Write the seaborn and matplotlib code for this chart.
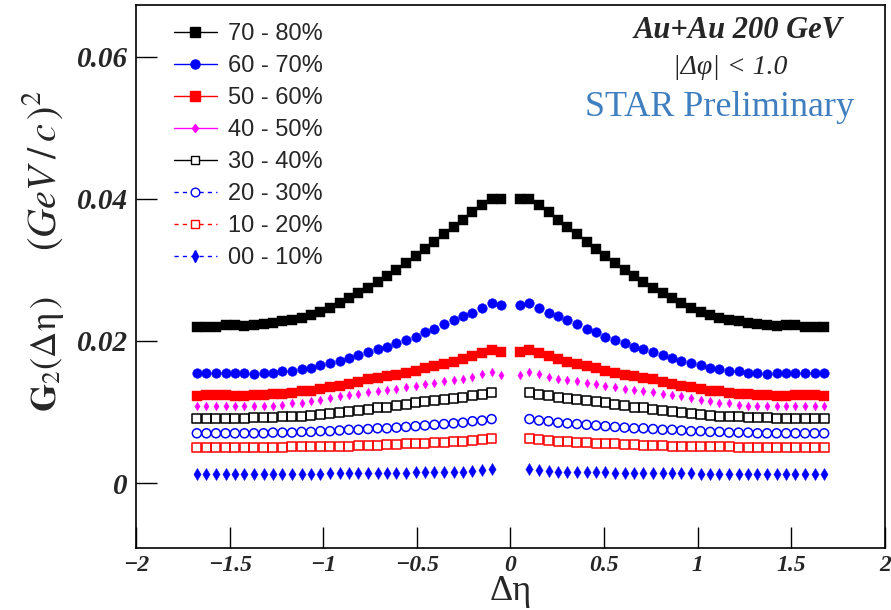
import matplotlib
matplotlib.use("Agg")
import matplotlib.pyplot as plt
import seaborn as sns
import pandas as pd
from matplotlib.lines import Line2D

# |Δη| bin centres (positive side; the chart is symmetric about 0)
eta_pos = [0.051, 0.101, 0.152, 0.203, 0.254, 0.304, 0.355, 0.406, 0.457, 0.507,
           0.558, 0.609, 0.660, 0.710, 0.761, 0.812, 0.863, 0.913, 0.964, 1.015,
           1.066, 1.116, 1.167, 1.218, 1.269, 1.319, 1.370, 1.421, 1.472, 1.522,
           1.573, 1.624, 1.675]

# series values, ordered from |Δη| smallest to largest
g2_70_80 = [0.0400, 0.0400, 0.0391, 0.0382, 0.0371, 0.0361, 0.0351, 0.0340, 0.0330, 0.0319,
            0.0310, 0.0300, 0.0291, 0.0283, 0.0275, 0.0267, 0.0260, 0.0253, 0.0247, 0.0241,
            0.0237, 0.0233, 0.0229, 0.0228, 0.0225, 0.0224, 0.0223, 0.0221, 0.0222, 0.0222,
            0.0220, 0.0220, 0.0220]
g2_60_70 = [0.0251, 0.0253, 0.0247, 0.0240, 0.0235, 0.0229, 0.0224, 0.0217, 0.0212, 0.0206,
            0.0201, 0.0197, 0.0192, 0.0188, 0.0184, 0.0180, 0.0176, 0.0172, 0.0169, 0.0166,
            0.0162, 0.0161, 0.0158, 0.0157, 0.0155, 0.0155, 0.0154, 0.0155, 0.0155, 0.0155,
            0.0155, 0.0155, 0.0155]
g2_50_60 = [0.0184, 0.0187, 0.0183, 0.0179, 0.0174, 0.0171, 0.0168, 0.0165, 0.0162, 0.0158,
            0.0155, 0.0152, 0.0150, 0.0148, 0.0146, 0.0142, 0.0140, 0.0137, 0.0135, 0.0132,
            0.0130, 0.0129, 0.0127, 0.0126, 0.0125, 0.0124, 0.0124, 0.0123, 0.0123, 0.0124,
            0.0124, 0.0124, 0.0123]
g2_40_50 = [0.0152, 0.0156, 0.0153, 0.0149, 0.0147, 0.0145, 0.0143, 0.0141, 0.0139, 0.0137,
            0.0135, 0.0133, 0.0131, 0.0129, 0.0128, 0.0126, 0.0124, 0.0122, 0.0119, 0.0117,
            0.0115, 0.0113, 0.0112, 0.0110, 0.0109, 0.0109, 0.0108, 0.0108, 0.0108, 0.0108,
            0.0108, 0.0108, 0.0108]
# the four most central classes start at the second bin
g2_30_40 = [0.0128, 0.0125, 0.0123, 0.0121, 0.0119, 0.0118, 0.0116, 0.0115, 0.0113,
            0.0111, 0.0109, 0.0107, 0.0106, 0.0104, 0.0102, 0.0101, 0.0099, 0.0098, 0.0096,
            0.0095, 0.0094, 0.0093, 0.0093, 0.0092, 0.0092, 0.0092, 0.0091, 0.0091, 0.0091,
            0.0091, 0.0091, 0.0091]
g2_20_30 = [0.0090, 0.0088, 0.0087, 0.0085, 0.0084, 0.0083, 0.0082, 0.0081, 0.0080,
            0.0079, 0.0078, 0.0077, 0.0077, 0.0076, 0.0075, 0.0075, 0.0074, 0.0073, 0.0073,
            0.0072, 0.0072, 0.0071, 0.0071, 0.0071, 0.0070, 0.0070, 0.0070, 0.0070, 0.0070,
            0.0070, 0.0070, 0.0070]
g2_10_20 = [0.0063, 0.0061, 0.0060, 0.0059, 0.0058, 0.0057, 0.0057, 0.0056, 0.0056,
            0.0055, 0.0054, 0.0054, 0.0053, 0.0053, 0.0053, 0.0052, 0.0052, 0.0052, 0.0051,
            0.0051, 0.0051, 0.0051, 0.0050, 0.0050, 0.0050, 0.0050, 0.0050, 0.0050, 0.0050,
            0.0050, 0.0050, 0.0050]
g2_00_10 = [0.0020, 0.0018, 0.0017, 0.0016, 0.0016, 0.0015, 0.0015, 0.0015, 0.0015,
            0.0014, 0.0014, 0.0014, 0.0014, 0.0014, 0.0014, 0.0014, 0.0014, 0.0014, 0.0013,
            0.0013, 0.0013, 0.0013, 0.0013, 0.0013, 0.0013, 0.0013, 0.0013, 0.0013, 0.0013,
            0.0013, 0.0013, 0.0013]

labels = ["70 - 80%", "60 - 70%", "50 - 60%", "40 - 50%",
          "30 - 40%", "20 - 30%", "10 - 20%", "00 - 10%"]
values = [g2_70_80, g2_60_70, g2_50_60, g2_40_50, g2_30_40, g2_20_30, g2_10_20, g2_00_10]

xticks = [-2, -1.5, -1, -0.5, 0, 0.5, 1, 1.5, 2]
xticklabels = ["\u22122", "\u22121.5", "\u22121", "\u22120.5", "0", "0.5", "1", "1.5", "2"]
yticks = [0, 0.02, 0.04, 0.06]
yticklabels = ["0", "0.02", "0.04", "0.06"]

# style per series: marker, colour, filled, scatter size, legend linestyle, legend ms
styles = [
    ("s", "black", True, 48, "-", 6.5),
    ("o", "#0000ff", True, 48, "-", 6.5),
    ("s", "#ff0000", True, 48, "-", 6.5),
    ("d", "#ff00ff", True, 20, "-", 4.4),
    ("s", "black", False, 42, "-", 6.2),
    ("o", "#0000ff", False, 42, "--", 6.2),
    ("s", "#ff0000", False, 42, "--", 6.2),
    ("d", "#0000ff", True, 38, "--", 5.8),
]

rows = []
for lab, vals in zip(labels, values):
    eta = eta_pos[len(eta_pos) - len(vals):]
    for e, v in zip(eta, vals):
        rows.append((lab, -e, v))
        rows.append((lab, e, v))
df = pd.DataFrame(rows, columns=["cent", "deta", "g2"]).sort_values(["cent", "deta"])

sns.set_theme(style="ticks")
plt.rcParams["font.family"] = ["Liberation Serif", "DejaVu Serif"]
plt.rcParams["mathtext.fontset"] = "stix"

fig = plt.figure(figsize=(8.91, 6.10), dpi=100)
fig.patch.set_facecolor("white")
ax = fig.add_axes([136 / 891, 1 - 548 / 610, 749 / 891, 543 / 610])
ax.set_facecolor("white")

handles = []
for lab, (m, c, filled, s, ls, ms) in zip(labels, styles):
    sub = df[df["cent"] == lab]
    if filled:
        sns.scatterplot(data=sub, x="deta", y="g2", marker=m, s=s, color=c,
                        edgecolor=c, linewidth=0.3, ax=ax, legend=False, zorder=3)
    else:
        sns.scatterplot(data=sub, x="deta", y="g2", marker=m, s=s,
                        facecolor="none", edgecolor=c, linewidth=1.1, ax=ax,
                        legend=False, zorder=3)
    handles.append(Line2D([], [], color=c, lw=1.0,
                          linestyle=(0, (3, 3)) if ls == "--" else "-",
                          marker=m, markersize=ms,
                          markerfacecolor=c if filled else "white",
                          markeredgecolor=c, markeredgewidth=1.0))

ax.set_xlim(-2, 2)
ax.set_ylim(-0.00915, 0.0673)
ax.set_xticks(xticks)
ax.set_xticklabels(xticklabels)
ax.set_yticks(yticks)
ax.set_yticklabels(yticklabels)
ax.minorticks_off()
ax.tick_params(axis="both", direction="in", length=15, width=1.0, color="black",
               top=False, right=False)
ax.tick_params(axis="x", pad=5)
ax.tick_params(axis="y", pad=6)
for t in ax.get_xticklabels():
    t.set_fontsize(17); t.set_fontweight("bold"); t.set_fontstyle("italic")
for t in ax.get_yticklabels():
    t.set_fontsize(21); t.set_fontweight("bold"); t.set_fontstyle("italic")
for sp in ax.spines.values():
    sp.set_linewidth(1.2)
    sp.set_color("black")
ax.set_xlabel("")
ax.set_ylabel("")
ax.grid(False)

fig.text(511 / 891, 1 - 592 / 610, "\u0394\u03b7", ha="center", va="center", fontsize=26)
# y-axis title, drawn in two pieces so the unit part can be spaced like the original
fig.text(56 / 891, 1 - 354 / 610, r"$\mathbf{G}_{2}\mathrm{(\Delta\eta\,)}$",
         rotation=90, rotation_mode="anchor", ha="center", va="baseline", fontsize=26)
fig.text(56 / 891, 1 - 170 / 610, r"$(GeV\;/\,c\,)^{2}$",
         rotation=90, rotation_mode="anchor", ha="center", va="baseline", fontsize=29)

fig.text(738 / 891, 1 - 31 / 610, "Au+Au 200 GeV", ha="center", va="center",
         fontsize=22, fontweight="bold", fontstyle="italic")
fig.text(730 / 891, 1 - 67 / 610, "|\u0394\u03c6| < 1.0", ha="center", va="center",
         fontsize=20, fontstyle="italic")
fig.text(720 / 891, 1 - 108 / 610, "STAR Preliminary", ha="center", va="center",
         fontsize=26, color="#3f7fbf")

leg = ax.legend(handles=handles, labels=labels, loc="upper left",
                bbox_to_anchor=(0.0507, 0.966), frameon=False, borderpad=0,
                borderaxespad=0, handlelength=1.82, handletextpad=0.47,
                labelspacing=0.42, prop={"family": "Liberation Sans", "size": 17})

fig.savefig("out.png", dpi=100, facecolor="white")
